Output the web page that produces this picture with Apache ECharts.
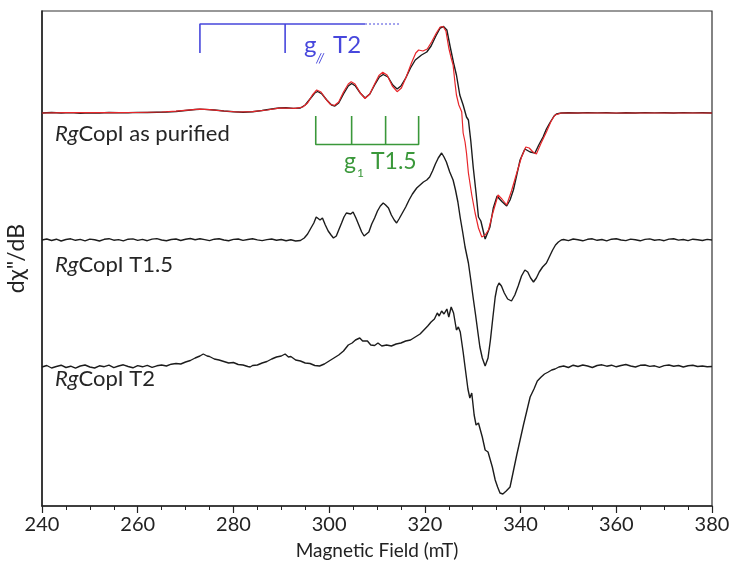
<!DOCTYPE html>
<html>
<head>
<meta charset="utf-8">
<script src="https://cdn.jsdelivr.net/npm/echarts@6/dist/echarts.min.js"></script>
<style>html,body{margin:0;padding:0;background:#fff}#c{width:733px;height:573px}</style>
</head>
<body>
<div id="c"></div>
<script>
// ---- data (field in mT, signal relative to each trace's baseline) ----
const xTicks = [240, 260, 280, 300, 320, 340, 360, 380];
const traceNames = ['RgCopI as purified', 'RgCopI T1.5', 'RgCopI T2'];
const traceOffsets = [393, 266, 139];

const purified = [[240,0],[242,0.5],[244,0],[246,0.4],[248,-0.2],[250,0.3],[252,0],[254,0.5],[256,0.2],[258,0.3],[260,0.6],[262,0.5],[264,0.8],[266,1],[268,1.5],[270,2.5],[272,3.5],[273,3.8],[274,3.6],[276,3],[278,2],[280,1.2],[282,0.8],[284,1.2],[286,2.5],[288,4],[289.5,5],[291,5.2],[292.5,4.6],[294,5],[295,8],[296,14],[297,20],[297.6,21.5],[298.5,19],[299.5,13],[300.5,8],[301.2,7],[302,10],[303,19],[304,27],[304.7,29.5],[305.5,27],[306.5,20],[307.5,15],[308.5,19],[309.5,28],[310.5,36],[311.3,38.5],[312.3,36],[313.3,28],[314.2,24],[315,27],[316,35],[317,45],[318,53],[319.3,58],[320.4,61],[321.3,67],[322.3,77],[323.2,85],[323.9,86.5],[324.6,83],[325.3,66],[326,50],[326.6,38],[327.3,18],[328,8],[328.7,-4],[329.1,-7],[329.6,-28],[330.1,-54],[330.7,-80],[331.2,-104],[331.7,-108],[332.6,-126],[333.6,-114],[334.3,-95],[335.1,-83],[335.6,-86],[336.2,-89],[337.1,-93],[337.8,-87],[338.5,-77],[339.2,-62],[339.9,-47],[340.9,-36],[342,-39],[343,-40],[343.8,-32],[344.7,-24],[345.4,-16],[346.1,-10],[347,-3],[347.5,-1],[348.5,0],[350,0.3],[352,0],[354,0.4],[356,0.1],[358,0.3],[360,-0.1],[362,0.3],[364,0],[366,0.4],[368,0.1],[370,0.3],[372,0],[374,0.4],[376,0.1],[378,0.3],[380,0]];

const purifiedFit = [[240,0],[245,0.3],[250,0.3],[255,0.4],[260,0.5],[265,1],[268,1.8],[271,3.2],[273,3.8],[275,3.4],[278,2],[281,1],[284,1.3],[287,3],[289.5,4.8],[291,5],[293,4.6],[294.5,6],[295.5,10],[296.5,18],[297.4,23],[298.3,21],[299.3,14],[300.3,8.5],[301.1,7.5],[302,11],[303,21],[304,29],[304.6,31.3],[305.4,29],[306.5,20],[307.5,14.5],[308.5,19],[309.5,29],[310.4,37.5],[311.2,40.7],[312.1,38],[313.2,27],[314.2,21.3],[315.1,25],[316.1,36],[317.2,50],[318.1,60],[318.7,63],[319.6,62],[320.5,64],[321.4,71],[322.4,80],[323.2,86],[323.8,86.5],[324.4,82],[325,65],[325.5,55],[325.9,48],[326.3,30],[326.6,18],[327.1,8],[327.7,1.3],[328,-20],[328.4,-29],[328.7,-40],[329.1,-60],[329.8,-82],[330.5,-100],[331.2,-115],[331.9,-124],[332.6,-122],[333.3,-117],[334.2,-100],[335.3,-82],[336.1,-86],[337.1,-92],[338.1,-78],[339.2,-60],[340.2,-44],[341.1,-34],[341.8,-35],[342.6,-39],[343.3,-41],[344.3,-30],[345.4,-19],[346.4,-8],[347.2,-2],[348.5,0],[355,0],[365,0],[380,0]];

const t15 = [[240,0],[241,1],[242,-0.5],[243,0.8],[244,-1],[245,0.5],[246,1.2],[247,-0.3],[248,0.6],[249,-0.8],[250,0.9],[251,0.2],[252,-1],[253,0.7],[254,1.3],[255,-0.2],[256,0.4],[257,-0.9],[258,0.8],[259,1.1],[260,-0.4],[261,0.6],[262,-0.7],[263,0.9],[264,1.4],[265,0],[266,-0.8],[267,0.5],[268,1],[269,-0.5],[270,0.7],[271,1.5],[272,0.2],[273,1.2],[274,0.4],[275,-0.6],[276,0.8],[277,1.3],[278,0],[279,-0.7],[280,0.6],[281,1],[282,-0.4],[283,0.5],[284,1.2],[285,0.1],[286,-0.6],[287,0.4],[288,1],[289,-0.3],[290,0.5],[291,-0.8],[292,0.2],[293,-1],[294,-0.5],[294.8,2],[295.5,6],[296.2,12],[296.8,17],[297.3,23],[297.7,24],[298.1,20],[298.6,22],[299.2,15],[299.8,9],[300.4,5],[300.9,2],[301.5,4],[302,10],[302.6,17],[303.1,23],[303.6,27],[304,28],[304.5,26],[305,28],[305.6,22],[306.2,15],[306.8,8],[307.3,4],[307.7,3],[308.3,8],[308.9,16],[309.5,22],[310.1,29],[310.7,34],[311.3,37],[311.8,35],[312.4,32],[313,25],[313.6,20],[314.1,17],[314.6,21],[315.3,27],[316,33],[316.7,40],[317.4,46],[318.3,52],[319,55],[319.7,58],[320.4,60],[321,63],[321.6,69],[322.2,76],[322.8,82],[323.5,87],[324,83],[324.5,78],[325.2,68],[325.9,60],[326.4,50],[326.9,38],[327.4,22],[327.9,8],[328.4,-7],[329.1,-23],[329.6,-40],[330.1,-58],[330.6,-75],[331.1,-93],[331.5,-107],[332,-118],[332.6,-126],[333.2,-118],[333.7,-100],[334.2,-78],[334.7,-57],[335.1,-47],[335.5,-43],[336,-46],[336.6,-53],[337.3,-59],[338.1,-61],[338.8,-55],[339.5,-46],[340.2,-36],[340.9,-30],[341.5,-32],[342.1,-38],[342.7,-42],[343.3,-38],[343.9,-32],[344.6,-27],[345.4,-23],[346,-17],[346.7,-10],[347.3,-5],[347.9,-2],[348.5,0],[349,0.5],[350,-0.6],[351,1],[352,0.2],[353,-0.8],[354,0.7],[355,1.2],[356,-0.3],[357,0.5],[358,-0.9],[359,0.8],[360,1.3],[361,0],[362,-0.6],[363,0.9],[364,0.3],[365,-0.8],[366,0.6],[367,1.1],[368,-0.2],[369,0.4],[370,-0.7],[371,0.9],[372,1.2],[373,-0.1],[374,0.5],[375,-0.6],[376,0.8],[377,0.2],[378,-0.5],[379,0.6],[380,0]];

const t2 = [[240,0],[241,1.5],[242,-1],[243,0.5],[244,1.8],[245,-0.5],[246,0.8],[247,-1.2],[248,1],[249,2],[250,0],[251,-1],[252,1.2],[253,0.3],[254,1.8],[255,-0.6],[256,1],[257,2.2],[258,0.5],[259,-0.8],[260,1.4],[261,0.2],[262,1.6],[263,-0.4],[264,1.2],[265,2],[266,1],[267,2.8],[268,3.5],[269,3],[270,5],[271,6.5],[272,9],[273,11],[273.7,13],[274.5,11],[275,10.5],[276,8],[277,7],[278,5.5],[279,4],[280,4.5],[281,2.5],[282,2],[283,0.5],[283.5,0],[284,1.5],[285,2],[286,4],[287,5.5],[288,8],[289,10],[290,11],[290.8,13],[291.5,10],[292,10.5],[293,7],[294,6],[295,4],[296,3.5],[297,1.5],[298,1],[299,3],[300,6],[301,9],[302,12],[303,16],[304,22],[304.8,24],[305.5,27],[306.4,29],[307,26],[308,26],[308.7,22],[309.5,21.5],[310.2,24],[311,21],[312,22],[313,21],[314,23],[315,24],[316,26],[317,27],[318,30],[319,33],[320,38],[320.6,41],[321.3,45],[322,48],[322.6,54],[323,51],[323.5,56],[324,53],[324.6,58],[325,50],[325.5,60],[326,54],[326.6,37],[327,40],[327.4,35],[328,15],[328.4,0],[329,-22],[329.4,-31],[329.8,-26],[330.3,-48],[330.7,-58],[331.2,-56],[331.6,-55],[332,-70],[332.6,-83],[333.2,-85],[333.6,-84],[334.1,-100],[334.7,-113],[335.2,-120],[335.7,-126],[336.3,-127],[337,-124],[337.8,-120],[338.5,-104],[339.2,-88],[339.9,-73],[340.6,-58],[341.3,-44],[342,-30],[342.8,-22],[343.5,-14],[344.3,-10],[345,-7],[345.8,-5],[346.5,-3],[347.2,-2],[348,0],[349,1],[350,-0.5],[351,1.8],[352,0.5],[353,2],[354,1],[355,-0.5],[356,1.5],[357,2.2],[358,0.8],[359,1.8],[360,0.2],[361,1.5],[362,2.5],[363,1],[364,0],[365,1.7],[366,2],[367,0.6],[368,1.2],[369,-0.3],[370,1.4],[371,2],[372,0.8],[373,1.5],[374,0],[375,1.2],[376,1.8],[377,0.5],[378,1],[379,0.2],[380,0.5]];

// stick diagrams (field positions of hyperfine lines)
const gParStick = [273, 290.8];       // g// T2
const gParStickEnd = 307.5;           // solid end
const gParStickDotEnd = 314.8;        // dotted end
const g1Stick = [297.2, 304.7, 311.8, 318.7]; // g1 T1.5

// ---- build ----
const shift = (arr, off) => arr.map(p => [p[0], p[1] + off]);
const blueTop = 482, blueBot = 453;
const greenTop = 390, greenBot = 361.5;

const blueSolid = [[gParStick[0], blueBot], [gParStick[0], blueTop], [gParStickEnd, blueTop], null, [gParStick[1], blueTop], [gParStick[1], blueBot]]
  .map(p => p === null ? ['-', '-'] : p);
const blueDot = [[gParStickEnd, blueTop], [gParStickDotEnd, blueTop]];
const greenLines = [[g1Stick[0], greenTop], [g1Stick[0], greenBot], [g1Stick[3], greenBot], [g1Stick[3], greenTop]];
const greenTicks = [];
g1Stick.slice(1, 3).forEach(v => { greenTicks.push([v, greenBot], [v, greenTop], ['-', '-']); });

const blue = '#4747dc', green = '#3a983a', black = '#1c1c1c', red = '#e8262a';
const FONT = 'Lato, "Open Sans", sans-serif';

const chart = echarts.init(document.getElementById('c'), null, {renderer: 'canvas'});
const lineS = (data, color, width, extra) => Object.assign({
  type: 'line', data, showSymbol: false, symbol: 'none', silent: true, animation: false,
  lineStyle: {color, width}, connectNulls: false
}, extra || {});

const labelStyle = (txt, size) => ({text: '{i|Rg}' + txt, font: size + 'px ' + FONT, fill: '#262626',
  rich: {i: {fontStyle: 'italic', fontSize: size, fontFamily: FONT, fill: '#262626'}}});

chart.setOption({
  backgroundColor: '#fff',
  animation: false,
  grid: {left: 42, right: 21, top: 11, bottom: 67, show: true, borderColor: '#333', borderWidth: 1.2,
    containLabel: false, outerBoundsMode: 'none'},
  xAxis: {
    type: 'value', min: 240, max: 380, interval: 20,
    axisLine: {show: true, lineStyle: {color: '#222', width: 1.5}},
    axisTick: {show: true, inside: false, length: 7, lineStyle: {color: '#222', width: 1.2}},
    minorTick: {show: true, splitNumber: 4, length: 4, lineStyle: {color: '#222', width: 1}},
    splitLine: {show: false},
    axisLabel: {fontSize: 20, color: '#222', fontFamily: FONT, margin: 9,
      formatter: v => xTicks.includes(v) ? String(v) : ''},
    name: 'Magnetic Field (mT)', nameLocation: 'middle', nameGap: 35,
    nameTextStyle: {fontSize: 19, color: '#222', fontFamily: FONT}
  },
  yAxis: {
    type: 'value', min: 0, max: 495,
    axisLine: {show: true, lineStyle: {color: '#222', width: 1.5}},
    axisTick: {show: false}, axisLabel: {show: false}, splitLine: {show: false},
    name: 'd\u03C7"/dB', nameLocation: 'middle', nameGap: 14, nameRotate: 90,
    nameTextStyle: {fontSize: 23, color: '#222', fontFamily: FONT}
  },
  series: [
    lineS(shift(purified, traceOffsets[0]), black, 1.4),
    lineS(shift(purifiedFit, traceOffsets[0]), red, 1.2),
    lineS(shift(t15, traceOffsets[1]), black, 1.4),
    lineS(shift(t2, traceOffsets[2]), black, 1.4),
    lineS(blueSolid, blue, 1.6),
    lineS(blueDot, blue, 1.2, {lineStyle: {color: blue, width: 1.2, type: [2, 2]}}),
    lineS(greenLines, green, 1.6),
    lineS(greenTicks, green, 1.6)
  ],
  graphic: [
    {type: 'text', left: 55, top: 123, style: labelStyle('CopI as purified', 22)},
    {type: 'text', left: 55, top: 254, style: labelStyle('CopI T1.5', 22)},
    {type: 'text', left: 55, top: 368, style: labelStyle('CopI T2', 22)},
    {type: 'text', left: 304, top: 33, style: {text: 'g', font: '24px ' + FONT, fill: blue}},
    {type: 'text', left: 316, top: 52, style: {text: '//', font: 'italic 13px ' + FONT, fill: blue}},
    {type: 'text', left: 333, top: 33, style: {text: 'T2', font: '24px ' + FONT, fill: blue}},
    {type: 'text', left: 344, top: 150, style: {text: 'g', font: '23px ' + FONT, fill: green}},
    {type: 'text', left: 357, top: 167, style: {text: '1', font: '12px ' + FONT, fill: green}},
    {type: 'text', left: 371, top: 150, style: {text: 'T1.5', font: '23px ' + FONT, fill: green}}
  ]
});
</script>
</body>
</html>
